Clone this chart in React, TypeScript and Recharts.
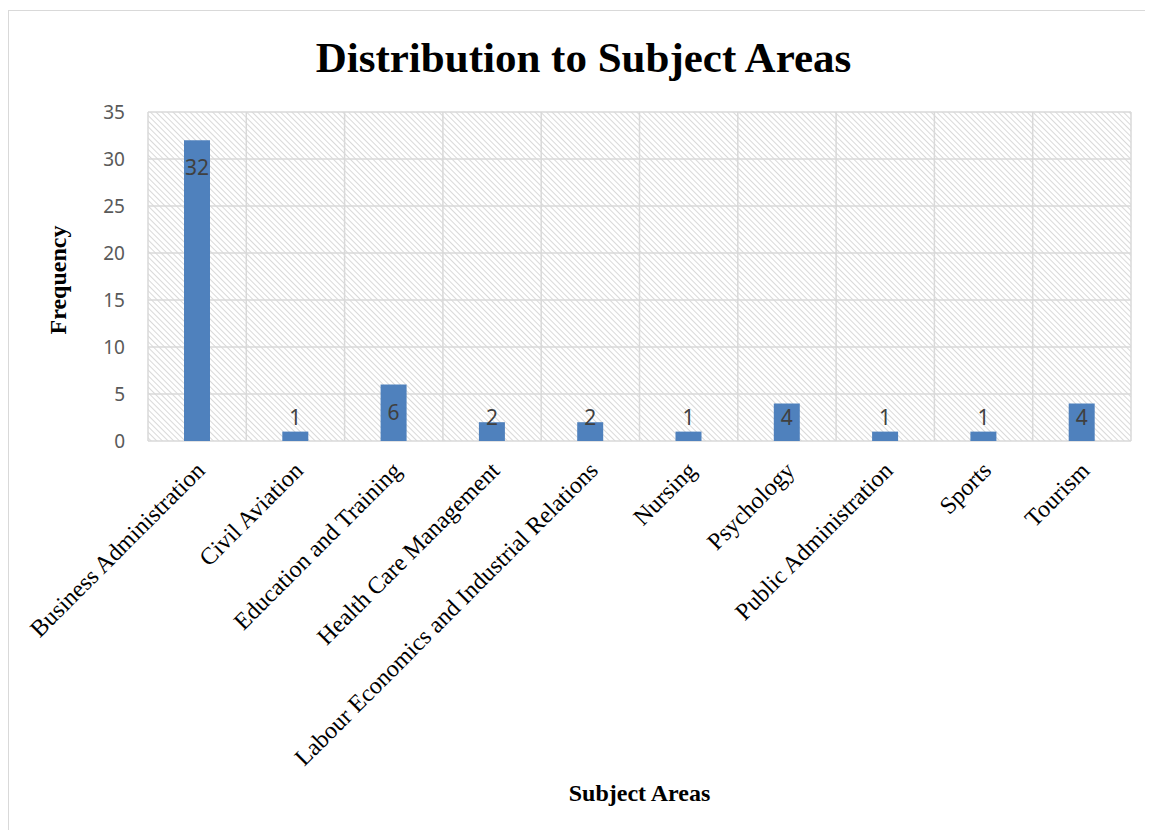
import { BarChart, Bar, XAxis, YAxis, CartesianGrid, LabelList } from 'recharts'

// subject areas and how many items fall into each
const subjects = [
  'Business Administration',
  'Civil Aviation',
  'Education and Training',
  'Health Care Management',
  'Labour Economics and Industrial Relations',
  'Nursing',
  'Psychology',
  'Public Administration',
  'Sports',
  'Tourism',
]
const frequencies = [32, 1, 6, 2, 2, 1, 4, 1, 1, 4]
const yTicks = [0, 5, 10, 15, 20, 25, 30, 35]

const data = subjects.map((subject, i) => ({ subject, frequency: frequencies[i] }))

const SERIF = '"Liberation Serif", "Times New Roman", serif'
const SANS = '"Noto Sans", "Open Sans", sans-serif'

function SubjectTick({ x, y, payload }: any) {
  return (
    <g transform={`translate(${x + 9},${y + 31})`}>
      <text
        textAnchor="end"
        transform="rotate(-45)"
        fontSize={24}
        fontFamily={SERIF}
        fill="#000"
      >
        {payload.value}
      </text>
    </g>
  )
}

// value sits just inside the bar top, but never lower than a fixed line above the axis
function ValueLabel({ x, y, width, height, value }: any) {
  const cy = Math.min(y + 27, y + height - 24)
  return (
    <text
      x={x + width / 2}
      y={cy}
      textAnchor="middle"
      dominantBaseline="central"
      fontSize={21}
      fontFamily={SANS}
      fill="#404040"
    >
      {value}
    </text>
  )
}

export default function App() {
  const n = subjects.length
  return (
    <div
      style={{
        position: 'relative',
        marginTop: 2,
        width: 1145,
        height: 820,
        borderLeft: '1px solid #d9d9d9',
        borderTop: '1px solid #d9d9d9',
        background: '#fff',
      }}
    >
      <div
        style={{
          position: 'absolute',
          left: 0,
          top: 25,
          width: 1149,
          textAlign: 'center',
          fontFamily: SERIF,
          fontWeight: 'bold',
          fontSize: 43,
          lineHeight: '43px',
        }}
      >
        Distribution to Subject Areas
      </div>

      <BarChart
        width={1144}
        height={819}
        data={data}
        margin={{ top: 101, right: 22, left: 0, bottom: 0 }}
      >
        <defs>
          <pattern
            id="hatch"
            width={4}
            height={4}
            patternUnits="userSpaceOnUse"
            patternTransform="rotate(-45)"
          >
            <line x1={0} y1={0} x2={0} y2={4} stroke="#cdcdcd" strokeWidth={1.5} />
          </pattern>
        </defs>
        <CartesianGrid
          fill="url(#hatch)"
          stroke="#d9d9d9"
          strokeWidth={1.5}
          verticalCoordinatesGenerator={({ offset }: any) =>
            Array.from({ length: n + 1 }, (_, i) => offset.left + (i * offset.width) / n)
          }
        />
        <XAxis
          dataKey="subject"
          height={389}
          interval={0}
          axisLine={false}
          tickLine={false}
          tickSize={0}
          tickMargin={0}
          tick={<SubjectTick />}
        />
        <YAxis
          width={139}
          domain={[0, 35]}
          ticks={yTicks}
          axisLine={false}
          tickLine={false}
          tickSize={0}
          tickMargin={23}
          tick={{ fontSize: 19, fontFamily: SANS, fill: '#595959' }}
        />
        <Bar dataKey="frequency" fill="#4f81bd" barSize={26} isAnimationActive={false}>
          <LabelList dataKey="frequency" content={<ValueLabel />} />
        </Bar>
      </BarChart>

      <div
        style={{
          position: 'absolute',
          left: 139,
          top: 770,
          width: 983,
          textAlign: 'center',
          fontFamily: SERIF,
          fontWeight: 'bold',
          fontSize: 24,
          lineHeight: '24px',
        }}
      >
        Subject Areas
      </div>
      <div
        style={{
          position: 'absolute',
          left: 49,
          top: 269,
          transform: 'translate(-50%, -50%) rotate(-90deg)',
          fontFamily: SERIF,
          fontWeight: 'bold',
          fontSize: 24,
          lineHeight: '24px',
          whiteSpace: 'nowrap',
        }}
      >
        Frequency
      </div>
    </div>
  )
}
